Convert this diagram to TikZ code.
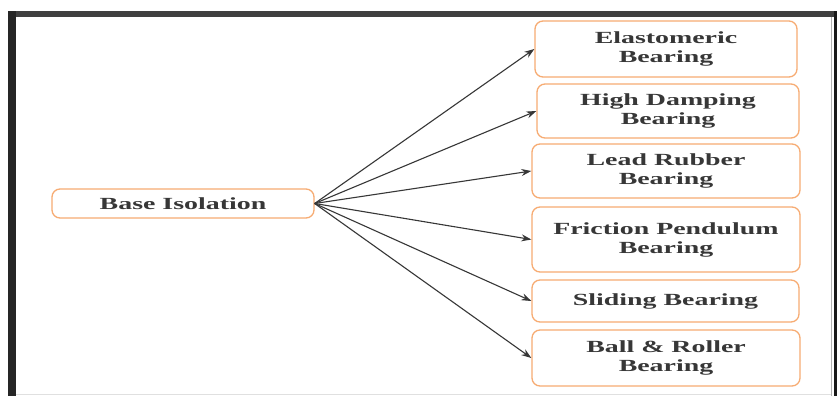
\documentclass[tikz,border=0pt]{standalone}
\usepackage{fontspec}
\setmainfont{Liberation Serif}[FakeStretch=1.64]
\usetikzlibrary{arrows.meta}
\definecolor{boxorange}{RGB}{247,172,115}
\definecolor{txtgray}{RGB}{55,55,55}
\definecolor{arrgray}{RGB}{55,55,55}
\tikzset{
  bx/.style={draw=boxorange, line width=1.3pt, rounded corners=8pt, fill=white,
    align=center, text=txtgray, font=\fontsize{17}{19}\selectfont\bfseries,
    inner sep=0pt},
  conn/.style={draw=arrgray, line width=1.1pt, -{Stealth[length=10pt,width=7pt]}}
}
\begin{document}
\begin{tikzpicture}[x=1pt,y=-1pt]
\useasboundingbox (0,0) rectangle (837,396);
\fill[white] (0,0) rectangle (837,396);
% frame
\fill[black!75] (8,11) rectangle (834,17);
\fill[black!85] (8,11) rectangle (16,396);
\fill[black!90] (834,11) rectangle (837,396);
\draw[black!30, line width=0.8pt] (831.5,17) -- (831.5,396);
\draw[black!12, line width=0.8pt] (16,394.5) -- (831,394.5);
% nodes
\node[bx, minimum width=262pt, minimum height=29pt] (base) at (183,203.5) {Base Isolation};
\node[bx, minimum width=262pt, minimum height=56pt] (elas) at (666,49) {Elastomeric\\Bearing};
\node[bx, minimum width=262pt, minimum height=54pt] (hdr) at (668,111) {High Damping\\Bearing};
\node[bx, minimum width=268pt, minimum height=54pt] (lrb) at (666,171) {Lead Rubber\\Bearing};
\node[bx, minimum width=268pt, minimum height=65pt] (fpb) at (666,239.5) {Friction Pendulum\\Bearing};
\node[bx, minimum width=267pt, minimum height=42pt] (slb) at (665.5,301) {Sliding Bearing};
\node[bx, minimum width=268pt, minimum height=56pt] (brb) at (666,358) {Ball \& Roller\\Bearing};
% connectors
\coordinate (src) at (base.east);
\draw[conn] (src) -- (elas.west);
\draw[conn] (src) -- (hdr.west);
\draw[conn] (src) -- (lrb.west);
\draw[conn] (src) -- (fpb.west);
\draw[conn] (src) -- (slb.west);
\draw[conn] (src) -- (brb.west);
\end{tikzpicture}
\end{document}
